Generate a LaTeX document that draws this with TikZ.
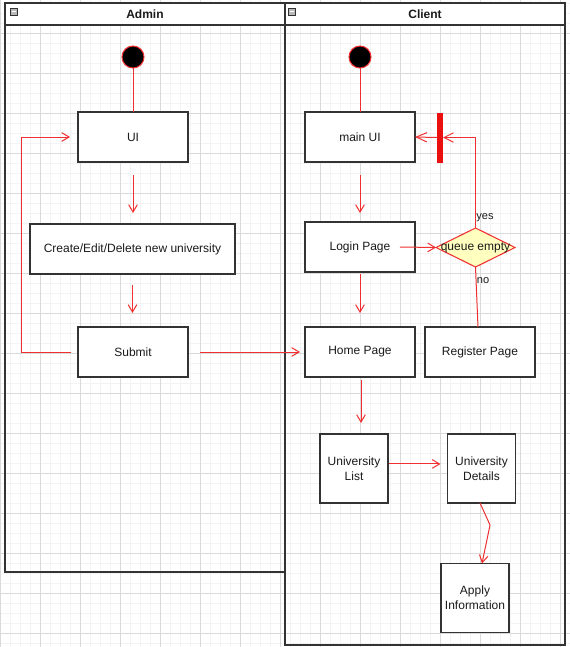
\documentclass[tikz,border=0pt]{standalone}
\usepackage{fontspec}
\setmainfont{Liberation Sans}
\usepackage{tikz}
\usetikzlibrary{arrows.meta,positioning,shapes.geometric}
\definecolor{flred}{RGB}{240,48,48}
\definecolor{barred}{RGB}{235,16,16}
\definecolor{boxline}{RGB}{51,51,51}
\definecolor{ink}{RGB}{26,26,26}
\definecolor{gmin}{RGB}{243,243,243}
\definecolor{gmaj}{RGB}{218,218,218}
\definecolor{qfill}{RGB}{255,255,192}
\newcommand{\dgfont}{\fontsize{9pt}{11pt}\selectfont}
\newcommand{\dgsmall}{\fontsize{8.3pt}{10pt}\selectfont}
\tikzset{
  act/.style={draw=boxline, fill=white, line width=1pt, minimum width=82.5pt, minimum height=37.5pt,
    inner sep=0pt, outer sep=0pt, font=\dgfont, text=ink, align=center},
  sact/.style={act, minimum width=51pt, minimum height=51.75pt},
  strt/.style={circle, fill=black, draw=flred, line width=0.8pt, minimum size=16.5pt, inner sep=0pt, outer sep=0pt},
  frk/.style={fill=barred, draw=none, minimum width=4.5pt, minimum height=37.5pt, inner sep=0pt, outer sep=0pt},
  qdec/.style={diamond, draw=flred, fill=qfill, line width=0.8pt, minimum width=59.25pt, minimum height=29.25pt,
    inner sep=0pt, outer sep=0pt, font=\dgfont, text=ink},
  flw/.style={-{Straight Barb[length=5.5pt, width=6.5pt]}, flred, line width=0.75pt},
  lnk/.style={flred, line width=0.75pt},
  pool/.style={draw=boxline, line width=1.1pt},
  hdr/.style={font=\bfseries\dgfont, text=ink},
  glab/.style={font=\dgsmall, text=ink},
  gmn/.style={gmin, line width=0.6pt},
  gmj/.style={gmaj, line width=0.6pt},
}

\begin{document}
\begin{tikzpicture}[x=0.75pt, y=-0.75pt]
\useasboundingbox (0,0) rectangle (570,647);
\fill[white] (0,0) rectangle (570,647);
% grid
\foreach \gx in {0,10,...,570} \draw[gmn] (\gx,0) -- (\gx,647);
\foreach \gy in {3,13,...,643} \draw[gmn] (0,\gy) -- (570,\gy);
\foreach \gx in {0,40,...,560} \draw[gmj] (\gx,0) -- (\gx,647);
\foreach \gy in {33,73,...,633} \draw[gmj] (0,\gy) -- (570,\gy);
% lanes
\draw[pool, fill=white] (5,3) rectangle (285,25);
\draw[pool] (5,25) rectangle (285,572);
\draw[pool, fill=white] (285,3) rectangle (565,25);
\draw[pool] (285,25) rectangle (565,645);
\draw[boxline, fill=gray!55, line width=0.5pt] (10,8) rectangle (17,15);
\draw[white, line width=0.8pt] (11.5,11.5) -- (15.5,11.5);
\draw[boxline, fill=gray!55, line width=0.5pt] (288,8) rectangle (295,15);
\draw[white, line width=0.8pt] (289.5,11.5) -- (293.5,11.5);
\node[hdr] (admh) at (145,14.5) {Admin};
\node[hdr] (clih) at (425,14.5) {Client};
% admin
\node[strt] (ast) at (133,57) {};
\node[act] (ui) at (133,137) {UI};
\node[act, minimum width=153.75pt] (ced) at (132.5,249) {Create/Edit/Delete new university};
\node[act] (sub) at (133,352) {Submit};
\draw[lnk] (ast) -- (ui);
\draw[flw, shorten <=9.75pt, shorten >=8.25pt] (ui.south) -- (ui.south |- ced.north);
\draw[flw, shorten <=8.25pt, shorten >=10.5pt] (ced.south) -- (ced.south |- sub.north);
\draw[flw, shorten <=5.25pt, shorten >=6pt] (sub.west) -- ++(-57,0) |- (ui.west);
% client
\node[strt] (cst) at (360,57) {};
\node[act] (mui) at (360,137) {main UI};
\node[frk] (bar) at (440,137.5) {};
\node[act] (login) at (360,247) {Login Page};
\node[qdec] (qe) at (475.5,247.5) {\makebox[0pt]{queue empty}};
\node[act] (home) at (360,352) {Home Page};
\node[act] (reg) at (480,352) {Register Page};
\node[sact] (unil) at (354,468.5) {University\\List};
\node[sact] (unid) at (481.5,468.5) {University\\Details};
\node[sact] (apply) at (475,598) {Apply\\Information};
\node[glab] (yes) at (485,218) {yes};
\node[glab] (no) at (483,281) {no};
\draw[flw, shorten <=9pt, shorten >=3.75pt] (sub.east) -- (home.west);
\draw[lnk] (cst) -- (mui);
\draw[flw, -{Straight Barb[length=8pt, width=7pt]}] (bar.west) -- (mui.east);
\draw[flw, -{Straight Barb[length=7pt, width=7pt]}] (qe.north) |- (bar.east);
\draw[flw, shorten <=9.75pt, shorten >=6.75pt] (mui.south) -- (mui.south |- login.north);
\draw[flw] ([xshift=-11.25pt]login.east) -- (qe.west);
\draw[lnk] (qe.south) -- ([xshift=-1.5pt]reg.north);
\draw[flw, shorten <=1.5pt, shorten >=10.5pt] (login.south) -- (login.south |- home.north);
\draw[flw, shorten <=2.25pt, shorten >=8.25pt] ([xshift=0.75pt]home.south) -- ([xshift=0.75pt]home.south |- unil.north);
\draw[flw, shorten <=0.75pt, shorten >=5.25pt] ([yshift=3.4pt]unil.east) -- ([yshift=3.4pt]unid.west);
\draw[flw] ([xshift=-1.1pt]unid.south) -- ++(10,22) -- ([xshift=5.25pt]apply.north);
\end{tikzpicture}
\end{document}
